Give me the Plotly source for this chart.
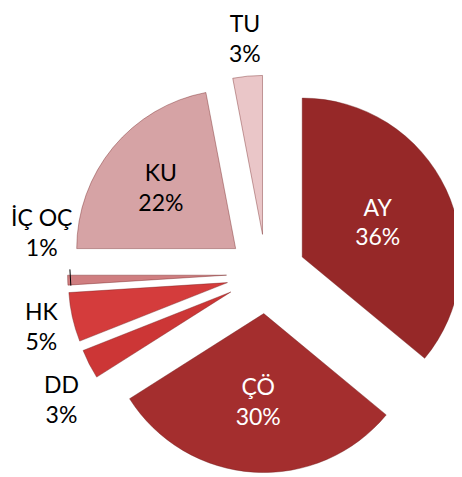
import plotly.graph_objects as go

labels = ["AY", "ÇÖ", "DD", "HK", "İÇ OÇ", "KU", "TU"]
values = [36, 30, 3, 5, 1, 22, 3]
colors = ["#962828", "#A42E2E", "#CC3636", "#D43C3C", "#CF7E80", "#D6A3A5", "#EAC6C8"]
text_pos = ["inside", "inside", "none", "none", "none", "inside", "none"]
text_col = ["white", "white", "black", "black", "black", "black", "black"]
# outside labels placed as annotations (paper fractions), as in the original chart
label_spots = {
    "DD": (0.116, 0.181),
    "HK": (0.073, 0.333),
    "İÇ OÇ": (0.072, 0.531),
    "TU": (0.512, 0.938),
}

total = sum(values)
FONT = "Lato"

fig = go.Figure(go.Pie(
    labels=labels,
    values=values,
    sort=False,
    direction="clockwise",
    rotation=0,
    pull=[0.25] * len(values),
    marker=dict(colors=colors, line=dict(color="#6e1c1c", width=0.4)),
    texttemplate="%{label}<br>%{percent:.0%}",
    textposition=text_pos,
    insidetextorientation="horizontal",
    insidetextfont=dict(color=text_col, size=23, family=FONT),
    showlegend=False,
    hoverinfo="label+percent",
    domain=dict(x=[0.129, 0.989], y=[0.017, 0.868]),
    automargin=False,
))

for lab, (ax_, ay_) in label_spots.items():
    v = values[labels.index(lab)]
    fig.add_annotation(
        x=ax_, y=ay_, xref="paper", yref="paper",
        xanchor="center", yanchor="middle",
        text=f"{lab}<br>{round(100 * v / total)}%",
        showarrow=False, align="center",
        font=dict(family=FONT, size=23, color="black"),
    )

# short leader line for the İÇ OÇ label
fig.add_shape(type="line", xref="paper", yref="paper",
              x0=0.134, y0=0.452, x1=0.136, y1=0.418,
              line=dict(color="black", width=1))

fig.update_layout(
    width=462, height=477,
    margin=dict(l=0, r=0, t=0, b=0),
    paper_bgcolor="white",
    plot_bgcolor="white",
)

fig.write_html("out.html")
